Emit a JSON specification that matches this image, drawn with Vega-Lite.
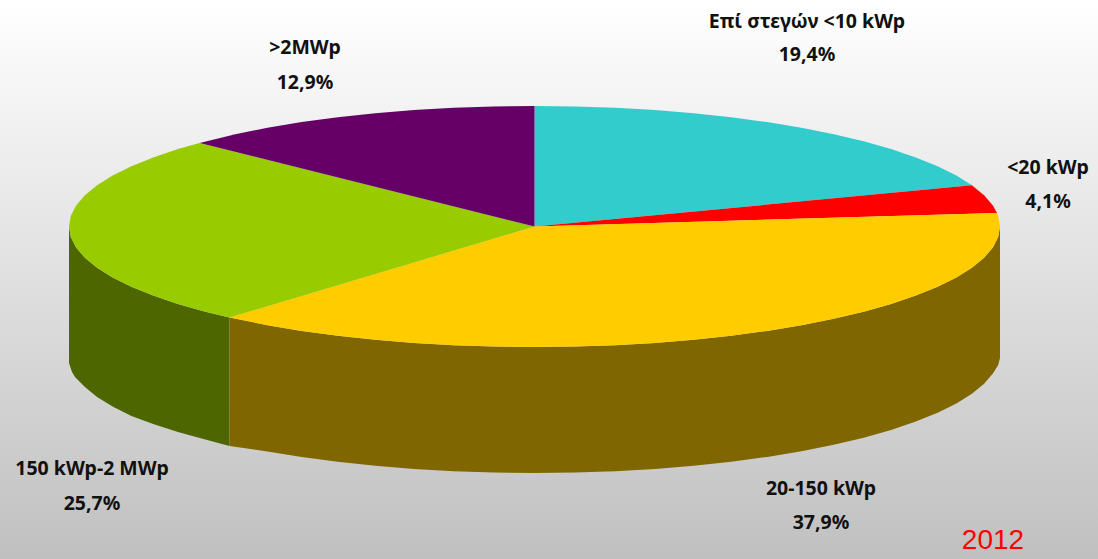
{"$schema":"https://vega.github.io/schema/vega-lite/v6.json","width":1098,"height":559,"padding":0,"autosize":{"type":"fit","contains":"padding"},"background":"#ffffff","view":{"stroke":null},
"layer":[
{"data":{"values":[{"x":0,"x2":1098,"y":0,"y2":559}]},"mark":{"type":"rect","color":{"gradient":"linear","x1":0,"y1":0,"x2":0,"y2":1,"stops":[{"offset":0,"color":"#ffffff"},{"offset":1,"color":"#c0c0c0"}]}},"encoding":{"x":{"field":"x","type":"quantitative","scale":{"domain":[0,1098],"nice":false,"zero":false},"axis":null},"x2":{"field":"x2"},"y":{"field":"y","type":"quantitative","scale":{"domain":[559,0],"nice":false,"zero":false},"axis":null},"y2":{"field":"y2"}}},
{"data":{"values":[
{"p":"side150","o":1,"x":229.5,"y":317.5},{"p":"side150","o":2,"x":205.3,"y":311.7},{"p":"side150","o":3,"x":177.9,"y":304},{"p":"side150","o":4,"x":153.2,"y":295.6},{"p":"side150","o":5,"x":131.4,"y":286.8},{"p":"side150","o":6,"x":112.6,"y":277.4},{"p":"side150","o":7,"x":97.1,"y":267.7},{"p":"side150","o":8,"x":84.9,"y":257.7},{"p":"side150","o":9,"x":76.1,"y":247.4},{"p":"side150","o":10,"x":70.8,"y":237},{"p":"side150","o":11,"x":69,"y":226.5},{"p":"side150","o":12,"x":69,"y":363},{"p":"side150","o":13,"x":72,"y":372},{"p":"side150","o":14,"x":75,"y":377},{"p":"side150","o":15,"x":84.9,"y":387},{"p":"side150","o":16,"x":97.1,"y":397},{"p":"side150","o":17,"x":112.6,"y":406.5},{"p":"side150","o":18,"x":131.4,"y":416},{"p":"side150","o":19,"x":153.2,"y":424},{"p":"side150","o":20,"x":177.9,"y":432},{"p":"side150","o":21,"x":205.3,"y":439.5},{"p":"side150","o":22,"x":229.5,"y":446},
{"p":"side20","o":1,"x":1000,"y":226.5},{"p":"side20","o":2,"x":998.2,"y":237},{"p":"side20","o":3,"x":992.9,"y":247.4},{"p":"side20","o":4,"x":984.1,"y":257.7},{"p":"side20","o":5,"x":971.9,"y":267.7},{"p":"side20","o":6,"x":956.4,"y":277.4},{"p":"side20","o":7,"x":937.6,"y":286.8},{"p":"side20","o":8,"x":915.8,"y":295.6},{"p":"side20","o":9,"x":891.1,"y":304},{"p":"side20","o":10,"x":863.7,"y":311.7},{"p":"side20","o":11,"x":833.7,"y":318.8},{"p":"side20","o":12,"x":801.5,"y":325.2},{"p":"side20","o":13,"x":767.3,"y":330.9},{"p":"side20","o":14,"x":731.2,"y":335.7},{"p":"side20","o":15,"x":693.7,"y":339.7},{"p":"side20","o":16,"x":655,"y":342.9},{"p":"side20","o":17,"x":615.3,"y":345.2},{"p":"side20","o":18,"x":575.1,"y":346.5},{"p":"side20","o":19,"x":534.5,"y":347},{"p":"side20","o":20,"x":493.9,"y":346.5},{"p":"side20","o":21,"x":453.7,"y":345.2},{"p":"side20","o":22,"x":414,"y":342.9},{"p":"side20","o":23,"x":375.3,"y":339.7},{"p":"side20","o":24,"x":337.8,"y":335.7},{"p":"side20","o":25,"x":301.7,"y":330.9},{"p":"side20","o":26,"x":267.5,"y":325.2},{"p":"side20","o":27,"x":229.5,"y":317.5},{"p":"side20","o":28,"x":229.5,"y":446},{"p":"side20","o":29,"x":267.5,"y":451.5},{"p":"side20","o":30,"x":301.7,"y":457},{"p":"side20","o":31,"x":337.8,"y":461.7},{"p":"side20","o":32,"x":375.3,"y":465.7},{"p":"side20","o":33,"x":414,"y":469},{"p":"side20","o":34,"x":453.7,"y":471.2},{"p":"side20","o":35,"x":493.9,"y":472.5},{"p":"side20","o":36,"x":534.5,"y":473},{"p":"side20","o":37,"x":575.1,"y":472.5},{"p":"side20","o":38,"x":615.3,"y":471.2},{"p":"side20","o":39,"x":655,"y":469},{"p":"side20","o":40,"x":693.7,"y":465.7},{"p":"side20","o":41,"x":731.2,"y":461.7},{"p":"side20","o":42,"x":767.3,"y":456.9},{"p":"side20","o":43,"x":801.5,"y":451.2},{"p":"side20","o":44,"x":833.7,"y":444.8},{"p":"side20","o":45,"x":863.7,"y":437.7},{"p":"side20","o":46,"x":891.1,"y":430},{"p":"side20","o":47,"x":915.8,"y":421.6},{"p":"side20","o":48,"x":937.6,"y":412.8},{"p":"side20","o":49,"x":956.4,"y":403.4},{"p":"side20","o":50,"x":971.9,"y":393.7},{"p":"side20","o":51,"x":984.1,"y":383.7},{"p":"side20","o":52,"x":992.9,"y":373.4},{"p":"side20","o":53,"x":998.2,"y":365},{"p":"side20","o":54,"x":1000,"y":358},
{"p":"roof","o":1,"x":534.5,"y":226.5},{"p":"roof","o":2,"x":534.5,"y":106},{"p":"roof","o":3,"x":575.1,"y":106.5},{"p":"roof","o":4,"x":615.3,"y":107.8},{"p":"roof","o":5,"x":655,"y":110.1},{"p":"roof","o":6,"x":693.7,"y":113.3},{"p":"roof","o":7,"x":731.2,"y":117.3},{"p":"roof","o":8,"x":767.3,"y":122.1},{"p":"roof","o":9,"x":801.5,"y":127.8},{"p":"roof","o":10,"x":833.7,"y":134.2},{"p":"roof","o":11,"x":863.7,"y":141.3},{"p":"roof","o":12,"x":891.1,"y":149},{"p":"roof","o":13,"x":915.8,"y":157.4},{"p":"roof","o":14,"x":937.6,"y":166.2},{"p":"roof","o":15,"x":956.4,"y":175.6},{"p":"roof","o":16,"x":971.9,"y":185.3},
{"p":"lt20","o":1,"x":534.5,"y":226.5},{"p":"lt20","o":2,"x":971.9,"y":185.3},{"p":"lt20","o":3,"x":984.1,"y":195.3},{"p":"lt20","o":4,"x":992.9,"y":205.6},{"p":"lt20","o":5,"x":997,"y":213},
{"p":"m20","o":1,"x":534.5,"y":226.5},{"p":"m20","o":2,"x":997,"y":213},{"p":"m20","o":3,"x":998.2,"y":216},{"p":"m20","o":4,"x":1000,"y":226.5},{"p":"m20","o":5,"x":998.2,"y":237},{"p":"m20","o":6,"x":992.9,"y":247.4},{"p":"m20","o":7,"x":984.1,"y":257.7},{"p":"m20","o":8,"x":971.9,"y":267.7},{"p":"m20","o":9,"x":956.4,"y":277.4},{"p":"m20","o":10,"x":937.6,"y":286.8},{"p":"m20","o":11,"x":915.8,"y":295.6},{"p":"m20","o":12,"x":891.1,"y":304},{"p":"m20","o":13,"x":863.7,"y":311.7},{"p":"m20","o":14,"x":833.7,"y":318.8},{"p":"m20","o":15,"x":801.5,"y":325.2},{"p":"m20","o":16,"x":767.3,"y":330.9},{"p":"m20","o":17,"x":731.2,"y":335.7},{"p":"m20","o":18,"x":693.7,"y":339.7},{"p":"m20","o":19,"x":655,"y":342.9},{"p":"m20","o":20,"x":615.3,"y":345.2},{"p":"m20","o":21,"x":575.1,"y":346.5},{"p":"m20","o":22,"x":534.5,"y":347},{"p":"m20","o":23,"x":493.9,"y":346.5},{"p":"m20","o":24,"x":453.7,"y":345.2},{"p":"m20","o":25,"x":414,"y":342.9},{"p":"m20","o":26,"x":375.3,"y":339.7},{"p":"m20","o":27,"x":337.8,"y":335.7},{"p":"m20","o":28,"x":301.7,"y":330.9},{"p":"m20","o":29,"x":267.5,"y":325.2},{"p":"m20","o":30,"x":229.5,"y":317.5},
{"p":"m150","o":1,"x":534.5,"y":226.5},{"p":"m150","o":2,"x":229.5,"y":317.5},{"p":"m150","o":3,"x":205.3,"y":311.7},{"p":"m150","o":4,"x":177.9,"y":304},{"p":"m150","o":5,"x":153.2,"y":295.6},{"p":"m150","o":6,"x":131.4,"y":286.8},{"p":"m150","o":7,"x":112.6,"y":277.4},{"p":"m150","o":8,"x":97.1,"y":267.7},{"p":"m150","o":9,"x":84.9,"y":257.7},{"p":"m150","o":10,"x":76.1,"y":247.4},{"p":"m150","o":11,"x":70.8,"y":237},{"p":"m150","o":12,"x":69,"y":226.5},{"p":"m150","o":13,"x":70.8,"y":216},{"p":"m150","o":14,"x":76.1,"y":205.6},{"p":"m150","o":15,"x":84.9,"y":195.3},{"p":"m150","o":16,"x":97.1,"y":185.3},{"p":"m150","o":17,"x":112.6,"y":175.6},{"p":"m150","o":18,"x":131.4,"y":166.2},{"p":"m150","o":19,"x":153.2,"y":157.4},{"p":"m150","o":20,"x":177.9,"y":149},{"p":"m150","o":21,"x":199.7,"y":143},
{"p":"gt2","o":1,"x":534.5,"y":226.5},{"p":"gt2","o":2,"x":199.7,"y":143},{"p":"gt2","o":3,"x":235.3,"y":134.2},{"p":"gt2","o":4,"x":267.5,"y":127.8},{"p":"gt2","o":5,"x":301.7,"y":122.1},{"p":"gt2","o":6,"x":337.8,"y":117.3},{"p":"gt2","o":7,"x":375.3,"y":113.3},{"p":"gt2","o":8,"x":414,"y":110.1},{"p":"gt2","o":9,"x":453.7,"y":107.8},{"p":"gt2","o":10,"x":493.9,"y":106.5},{"p":"gt2","o":11,"x":534.5,"y":106}
]},"mark":{"type":"line","filled":true,"strokeWidth":0,"interpolate":"linear"},"encoding":{"x":{"field":"x","type":"quantitative","scale":{"domain":[0,1098],"nice":false,"zero":false},"axis":null},"y":{"field":"y","type":"quantitative","scale":{"domain":[559,0],"nice":false,"zero":false},"axis":null},"order":{"field":"o","type":"quantitative"},"color":{"field":"p","type":"nominal","legend":null,"scale":{"domain":["side150","side20","roof","lt20","m20","m150","gt2"],"range":["#4d6600","#806600","#33cccc","#ff0000","#ffcc00","#99cc00","#660066"]}}}},
{"data":{"values":[
{"t":"Επί στεγών <10 kWp","x":807,"y":22},{"t":"19,4%","x":807,"y":55},
{"t":"<20 kWp","x":1048,"y":168},{"t":"4,1%","x":1048,"y":202},
{"t":"20-150 kWp","x":821,"y":489},{"t":"37,9%","x":821,"y":523},
{"t":"150 kWp-2 MWp","x":92,"y":469},{"t":"25,7%","x":92,"y":504},
{"t":">2MWp","x":305,"y":48},{"t":"12,9%","x":305,"y":83}
]},"mark":{"type":"text","font":"Noto Sans","fontWeight":"bold","fontSize":19.5,"color":"#111111","align":"center","baseline":"middle"},"encoding":{"x":{"field":"x","type":"quantitative","scale":{"domain":[0,1098],"nice":false,"zero":false},"axis":null},"y":{"field":"y","type":"quantitative","scale":{"domain":[559,0],"nice":false,"zero":false},"axis":null},"text":{"field":"t","type":"nominal"}}},
{"data":{"values":[{"t":"2012","x":993,"y":541}]},"mark":{"type":"text","font":"Liberation Sans","fontSize":28,"color":"#ff0000","align":"center","baseline":"middle"},"encoding":{"x":{"field":"x","type":"quantitative","scale":{"domain":[0,1098],"nice":false,"zero":false},"axis":null},"y":{"field":"y","type":"quantitative","scale":{"domain":[559,0],"nice":false,"zero":false},"axis":null},"text":{"field":"t","type":"nominal"}}}
]}
